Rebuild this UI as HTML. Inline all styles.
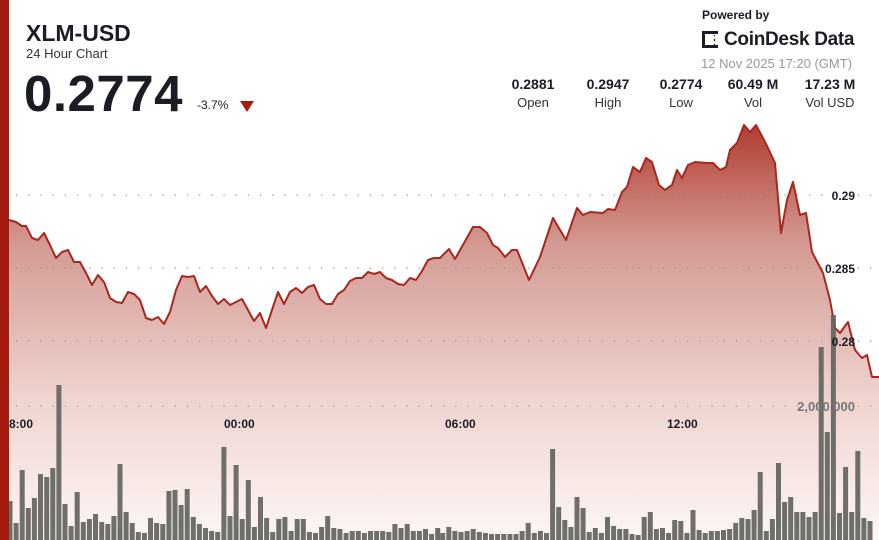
<!DOCTYPE html>
<html><head><meta charset="utf-8"><style>
body{margin:0;width:879px;height:540px;overflow:hidden;background:#fff;font-family:"Liberation Sans",sans-serif;position:relative}
.a{position:absolute;white-space:nowrap}
.st{position:absolute;text-align:center;width:70px;top:76px}
.st b{display:block;font-size:14px;color:#1a1d24}
.st span{display:block;font-size:13px;color:#333;margin-top:3px}
</style></head><body>
<svg width="879" height="540" style="position:absolute;left:0;top:0">
<defs>
<linearGradient id="g" gradientUnits="userSpaceOnUse" x1="0" y1="120" x2="0" y2="540">
<stop offset="0" stop-color="#b0392c"/>
<stop offset="0.3" stop-color="#d49b94"/>
<stop offset="0.66" stop-color="#efd3cf"/>
<stop offset="1" stop-color="#fdf6f5"/>
</linearGradient>
</defs>
<path id="area" fill="url(#g)" stroke="none"/>
<g id="grid"></g>
<path id="line" fill="none" stroke="#a8281e" stroke-width="2" stroke-linejoin="round"/>
<g id="bars" fill="#64645e" opacity="0.92"></g>
<rect x="0" y="0" width="9" height="540" fill="#a61b10"/>
<g font-family="Liberation Sans, sans-serif" font-weight="bold" font-size="12" fill="#1a1d24">
<text x="855" y="200" text-anchor="end">0.29</text>
<text x="855" y="273" text-anchor="end">0.285</text>
<text x="855" y="346" text-anchor="end">0.28</text>
<text x="855" y="411" text-anchor="end" fill="#777" font-size="13">2,000,000</text>
<text x="9" y="428">8:00</text>
<text x="224" y="428">00:00</text>
<text x="445" y="428">06:00</text>
<text x="667" y="428">12:00</text>
</g>
</svg>
<div class="a" style="left:26px;top:20px;font-size:23px;font-weight:bold;color:#1a1d24">XLM-USD</div>
<div class="a" style="left:26px;top:46px;font-size:13px;color:#333">24 Hour Chart</div>
<div class="a" style="left:24px;top:64px;font-size:51px;font-weight:bold;color:#1a1d24;letter-spacing:0.5px">0.2774</div>
<div class="a" style="left:197px;top:98px;font-size:12px;color:#1a1d24">-3.7%</div>
<div class="a" style="left:240px;top:101px;width:0;height:0;border-left:7px solid transparent;border-right:7px solid transparent;border-top:11px solid #a61b10"></div>
<div class="a" style="left:702px;top:8px;font-size:12px;font-weight:bold;color:#1a1d24">Powered by</div>
<div class="a" style="left:702px;top:31px;width:16px;height:17px;border:3px solid #1a1d24;border-right:none;box-sizing:border-box"></div>
<div class="a" style="left:713px;top:35px;font-size:9px;font-weight:bold;color:#1a1d24;line-height:5px">:<br>:</div>
<div class="a" style="left:724px;top:29px;font-size:19px;font-weight:bold;color:#1a1d24;letter-spacing:-0.3px">CoinDesk Data</div>
<div class="a" style="left:701px;top:56px;font-size:13px;color:#999">12 Nov 2025 17:20 (GMT)</div>
<div class="st" style="left:498px"><b>0.2881</b><span>Open</span></div>
<div class="st" style="left:573px"><b>0.2947</b><span>High</span></div>
<div class="st" style="left:646px"><b>0.2774</b><span>Low</span></div>
<div class="st" style="left:718px"><b>60.49 M</b><span>Vol</span></div>
<div class="st" style="left:795px"><b>17.23 M</b><span>Vol USD</span></div>
<script>
var P=[[9,220],[16,222],[22,226],[26,226],[32,238],[38,240],[44,233],[50,245],[56,258],[62,252],[68,250],[74,262],[80,262],[86,273],[92,285],[98,275],[104,282],[110,298],[116,302],[122,303],[128,292],[134,294],[140,300],[146,318],[152,320],[158,317],[164,324],[170,312],[176,290],[182,276],[188,277],[194,276],[200,292],[206,286],[212,296],[218,304],[224,299],[230,305],[236,302],[242,299],[248,310],[254,321],[260,313],[266,328],[272,310],[278,292],[284,304],[290,292],[296,288],[302,293],[308,287],[314,285],[320,299],[326,304],[332,304],[338,294],[344,290],[350,281],[356,278],[362,278],[368,272],[374,274],[380,272],[386,278],[392,280],[398,284],[404,285],[410,278],[416,280],[422,271],[428,260],[434,258],[440,258],[449,249],[455,259],[473,227],[480,227],[487,233],[493,245],[498,248],[505,257],[512,250],[517,250],[529,280],[540,257],[553,218],[566,240],[577,208],[583,215],[590,212],[603,213],[608,209],[615,210],[622,192],[627,187],[633,167],[640,172],[646,158],[652,162],[659,185],[665,190],[672,185],[677,170],[682,178],[688,165],[695,162],[707,163],[713,163],[720,170],[726,167],[730,150],[737,143],[744,125],[750,132],[756,125],[763,138],[768,148],[775,163],[781,233],[787,200],[793,182],[800,215],[806,213],[812,252],[823,273],[830,300],[835,328],[840,333],[848,322],[855,350],[862,358],[867,355],[872,377],[879,377]];
var d=P.map(function(p,i){return(i?'L':'M')+p[0]+' '+p[1]}).join(' ');
document.getElementById('line').setAttribute('d',d);
document.getElementById('area').setAttribute('d',d+' L879 540 L9 540 Z');
var T1=[501,523,470,508,498,474,477,468,385,504,526,492,522,519,514,522,524,516,464,512,523,532,533,518,523,524,491,490,505,489,517,524,528,531,532,447,516,465,519,480,527,497,518,532,519,517,531,519,519,532,533,527,516,528,529,533,531,531,533,531,531,531,532,524,528,524,531,531,529,534,528];
var T2=[533,527,531,532,531,529,532,533,534,534,534,534,534,531,523,533,531,533,449,507,520,527,497,508,532,528,533,517,526,529,529,534,535,517,512,529,528,533,520,521,533,510,530,533,531,531,530,529,523,518,519,510,472,531,519,463,502,497,512,512,517,512,347,432,315,513,467,512,451,518,521];
var s='';
T1.forEach(function(t,i){var x=10+i*6.11;s+='<rect x="'+(x-2.5).toFixed(1)+'" y="'+t+'" width="5" height="'+(540-t)+'"/>'});
T2.forEach(function(t,i){var x=442.7+i*6.105;s+='<rect x="'+(x-2.5).toFixed(1)+'" y="'+t+'" width="5" height="'+(540-t)+'"/>'});
document.getElementById('bars').innerHTML=s;
var g='';[195,268,341,406].forEach(function(y){for(var x=16;x<879;x+=12.2)g+='<rect x="'+x.toFixed(1)+'" y="'+(y-0.5)+'" width="1.3" height="1.3" fill="#9a9a9a"/>'});
document.getElementById('grid').innerHTML=g;
</script>
</body></html>
